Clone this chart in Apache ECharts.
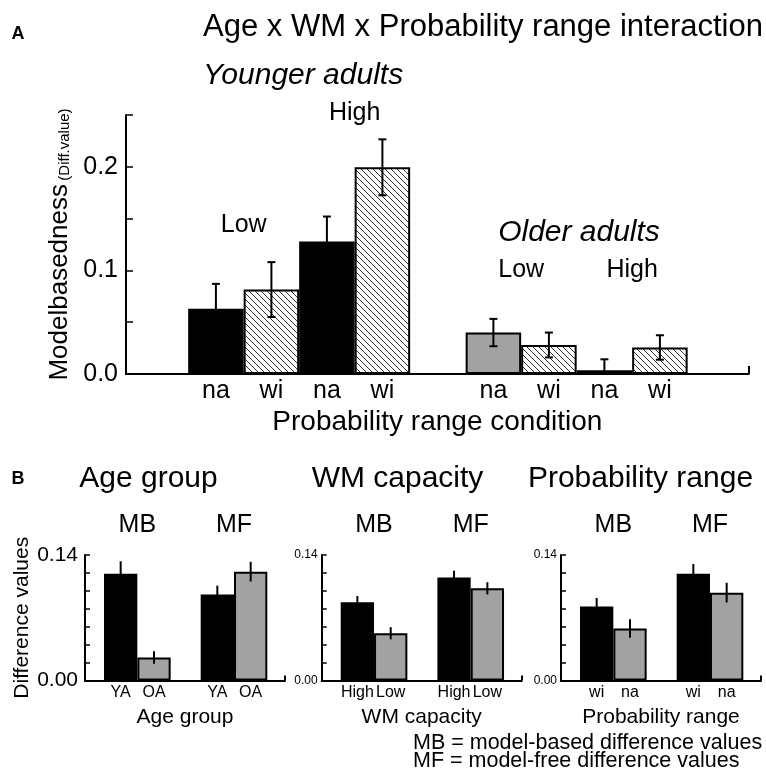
<!DOCTYPE html>
<html>
<head>
<meta charset="utf-8">
<script src="https://cdn.jsdelivr.net/npm/echarts@6/dist/echarts.min.js"></script>
<style>
  html, body { margin: 0; background: #fff; }
  #chart { width: 766px; height: 775px; }
</style>
</head>
<body>
<div id="chart"></div>
<script>
// Panel A: Age x WM x Probability range
const ageGroups = ['Younger adults', 'Older adults']
const rangeLabels = ['na', 'wi', 'na', 'wi']
const wmLabels = ['Low', 'High']
const youngMeans = [0.063, 0.0815, 0.128, 0.1995]
const youngErrs = [0.024, 0.0265, 0.024, 0.027]
const olderMeans = [0.040, 0.028, 0.0037, 0.0256]
const olderErrs = [0.0132, 0.012, 0.0105, 0.0118]
const aTicks = [0, 0.1, 0.2]

// Panel B: main effects, order MB-first, MB-second, MF-first, MF-second
const bTitles = ['Age group', 'WM capacity', 'Probability range']
const bMeasures = ['MB', 'MF']
const bLevels = [['YA', 'OA'], ['High', 'Low'], ['wi', 'na']]
const ageMeans = [0.119, 0.0256, 0.0958, 0.1214]
const ageErrs = [0.014, 0.007, 0.010, 0.011]
const wmMeans = [0.0872, 0.0527, 0.115, 0.1028]
const wmErrs = [0.007, 0.0068, 0.0075, 0.0068]
const probMeans = [0.0825, 0.0579, 0.119, 0.098]
const probErrs = [0.0095, 0.0103, 0.011, 0.011]
const bTicks = [0, 0.14]

const FONT = 'Liberation Sans, Arial, sans-serif'
const GRAY = '#a2a2a2'

function hatchCanvas() {
  const c = document.createElement('canvas')
  c.width = 6; c.height = 6
  const ctx = c.getContext('2d')
  ctx.fillStyle = '#fff'
  ctx.fillRect(0, 0, 6, 6)
  ctx.strokeStyle = '#333'
  ctx.lineWidth = 1
  ctx.beginPath()
  ctx.moveTo(-1, -1); ctx.lineTo(7, 7)
  ctx.moveTo(-1, 5); ctx.lineTo(1, 7)
  ctx.moveTo(5, -1); ctx.lineTo(7, 1)
  ctx.stroke()
  return c
}
const HATCH = { image: hatchCanvas(), repeat: 'repeat' }

// slot layout (in bar widths)
const A_FIRST = 1.62, A_GROUP = 5, A_MAX = 11.22
const B_FIRST = 1.07, B_GROUP = 2.9, B_MAX = 6

const youngFill = ['#000', HATCH, '#000', HATCH]
const olderFill = [GRAY, HATCH, '#000', HATCH]

const aPos = []
const aBars = []
const aErr = []
;[[youngMeans, youngErrs, youngFill], [olderMeans, olderErrs, olderFill]].forEach(([m, e, f], g) => {
  m.forEach((v, i) => {
    const x = A_FIRST + g * A_GROUP + i
    aPos.push(x)
    aBars.push({ value: [x, v], itemStyle: { color: f[i] } })
    aErr.push([x, v - e[i], v + e[i]])
  })
})

const bPos = [0, 1, 2, 3].map(i => B_FIRST + Math.floor(i / 2) * B_GROUP + (i % 2))
const bMeans = [ageMeans, wmMeans, probMeans]
const bErrs = [ageErrs, wmErrs, probErrs]

function errorItem(cap) {
  return function (params, api) {
    const x = api.value(0)
    const lo = api.value(1), hi = api.value(2)
    const top = api.coord([x, hi])
    const bot = api.coord([x, Math.max(0, lo)])
    const st = { stroke: '#000', lineWidth: 2 }
    const kids = [{ type: 'line', shape: { x1: top[0], y1: top[1], x2: bot[0], y2: bot[1] }, style: st }]
    if (cap) {
      kids.push({ type: 'line', shape: { x1: top[0] - 4, y1: top[1], x2: top[0] + 4, y2: top[1] }, style: st })
      if (lo > 0) kids.push({ type: 'line', shape: { x1: bot[0] - 4, y1: bot[1], x2: bot[0] + 4, y2: bot[1] }, style: st })
    }
    return { type: 'group', children: kids }
  }
}

const axisLine = { show: true, onZero: false, lineStyle: { color: '#000', width: 2 } }
const tickStyle = { color: '#000', width: 1.5 }

const grids = [{ left: 126, width: 622.7, top: 115, height: 259 }]
const xAxes = [{
  gridIndex: 0, type: 'value', min: 0, max: A_MAX,
  axisLine, splitLine: { show: false },
  axisTick: { show: true, inside: true, length: 8, customValues: [A_MAX], lineStyle: { color: '#000', width: 2 } },
  axisLabel: {
    customValues: aPos, margin: 5, fontSize: 25, color: '#000', fontFamily: FONT,
    formatter: v => rangeLabels[aPos.findIndex(p => Math.abs(p - v) < 1e-6) % 4]
  },
  name: 'Probability range condition', nameLocation: 'middle', nameGap: 34,
  nameTextStyle: { fontSize: 28, color: '#000', fontFamily: FONT }
}]
const yAxes = [{
  gridIndex: 0, type: 'value', min: 0, max: 0.25, interval: 0.05,
  axisLine, splitLine: { show: false },
  axisTick: { show: true, inside: true, length: 7, lineStyle: tickStyle },
  axisLabel: { customValues: aTicks, formatter: v => v.toFixed(1), fontSize: 25, color: '#000', margin: 8, fontFamily: FONT },
  name: '{big|Modelbasedness} {small|(Diff.value)}', nameLocation: 'middle', nameRotate: 90, nameGap: 46,
  nameTextStyle: {
    fontFamily: FONT, color: '#000',
    rich: {
      big: { fontSize: 26, fontFamily: FONT, color: '#000', verticalAlign: 'bottom', lineHeight: 30 },
      small: { fontSize: 15, fontFamily: FONT, color: '#000', verticalAlign: 'bottom', lineHeight: 30 }
    }
  }
}]
const series = [
  { type: 'bar', xAxisIndex: 0, yAxisIndex: 0, barWidth: 55.5, data: aBars,
    itemStyle: { borderColor: '#000', borderWidth: 2 }, silent: true },
  { type: 'custom', xAxisIndex: 0, yAxisIndex: 0, renderItem: errorItem(true),
    encode: { x: 0, y: [1, 2] }, data: aErr, z: 5 }
]

const bLefts = [85, 321.7, 561]
bLefts.forEach((left, k) => {
  const gi = k + 1
  grids.push({ left, width: 200, top: 555, height: 125.5 })
  xAxes.push({
    gridIndex: gi, type: 'value', min: 0, max: B_MAX,
    axisLine, splitLine: { show: false },
    axisTick: { show: true, inside: true, length: 5, customValues: [B_MAX], lineStyle: { color: '#000', width: 2 } },
    axisLabel: {
      customValues: bPos, margin: 4, fontSize: 16, color: '#000', fontFamily: FONT,
      formatter: v => bLevels[k][bPos.findIndex(p => Math.abs(p - v) < 1e-6) % 2]
    },
    name: bTitles[k], nameLocation: 'middle', nameGap: 26,
    nameTextStyle: { fontSize: 21, color: '#000', fontFamily: FONT }
  })
  yAxes.push({
    gridIndex: gi, type: 'value', min: 0, max: 0.14, interval: 0.02,
    axisLine, splitLine: { show: false },
    axisTick: { show: true, inside: true, length: 5, lineStyle: tickStyle },
    axisLabel: {
      customValues: bTicks, formatter: v => v.toFixed(2), color: '#000', fontFamily: FONT,
      fontSize: k === 0 ? 21 : 12, margin: k === 0 ? 7 : 4
    },
    name: k === 0 ? 'Difference values' : '', nameLocation: 'middle', nameRotate: 90, nameGap: 52,
    nameTextStyle: { fontSize: 21, color: '#000', fontFamily: FONT }
  })
  series.push({
    type: 'bar', xAxisIndex: gi, yAxisIndex: gi, barWidth: 33.3, silent: true,
    itemStyle: { borderColor: '#000', borderWidth: 2 },
    data: bMeans[k].map((v, i) => ({ value: [bPos[i], v], itemStyle: { color: i % 2 ? GRAY : '#000' } }))
  })
  series.push({
    type: 'custom', xAxisIndex: gi, yAxisIndex: gi, renderItem: errorItem(false), z: 5,
    encode: { x: 0, y: [1, 2] },
    data: bMeans[k].map((v, i) => [bPos[i], v - bErrs[k][i], v + bErrs[k][i]])
  })
})

const chart = echarts.init(document.getElementById('chart'))
chart.setOption({
  animation: false,
  backgroundColor: '#fff',
  textStyle: { fontFamily: FONT, color: '#000' },
  grid: grids, xAxis: xAxes, yAxis: yAxes, series
})

function txt(text, x, y, size, opts) {
  return {
    type: 'text', x, y, z: 100,
    style: Object.assign({
      text, fill: '#000', textAlign: 'center', textVerticalAlign: 'middle',
      font: `${size}px ${FONT}`
    }, opts || {})
  }
}
const px = (axis, v) => chart.convertToPixel({ xAxisIndex: axis }, v)

const graphics = [
  txt('A', 18, 34, 18, { font: `bold 18px ${FONT}` }),
  txt('Age x WM x Probability range interaction', 483, 27, 31),
  txt(ageGroups[0], 203, 76, 30, { textAlign: 'left', font: `italic 30px ${FONT}` }),
  txt(ageGroups[1], 579, 233, 30, { font: `italic 30px ${FONT}` }),
  txt(wmLabels[0], (px(0, aPos[0]) + px(0, aPos[1])) / 2, 225, 25),
  txt(wmLabels[1], (px(0, aPos[2]) + px(0, aPos[3])) / 2, 113, 25),
  txt(wmLabels[0], (px(0, aPos[4]) + px(0, aPos[5])) / 2, 270, 25),
  txt(wmLabels[1], (px(0, aPos[6]) + px(0, aPos[7])) / 2, 270, 25),
  txt('B', 18, 479, 18, { font: `bold 18px ${FONT}` }),
  txt(bTitles[0], 148.5, 479, 30),
  txt(bTitles[1], 397.5, 479, 30),
  txt(bTitles[2], 640.5, 479, 30),
  txt('MB = model-based difference values', 413, 743, 21.5, { textAlign: 'left' }),
  txt('MF = model-free difference values', 413, 761, 21.5, { textAlign: 'left' })
]
;[1, 2, 3].forEach(ax => {
  bMeasures.forEach((m, j) => {
    const cx = (px(ax, bPos[j * 2]) + px(ax, bPos[j * 2 + 1])) / 2
    graphics.push(txt(m, cx, 525, 25))
  })
})
chart.setOption({ graphic: graphics })
</script>
</body>
</html>
